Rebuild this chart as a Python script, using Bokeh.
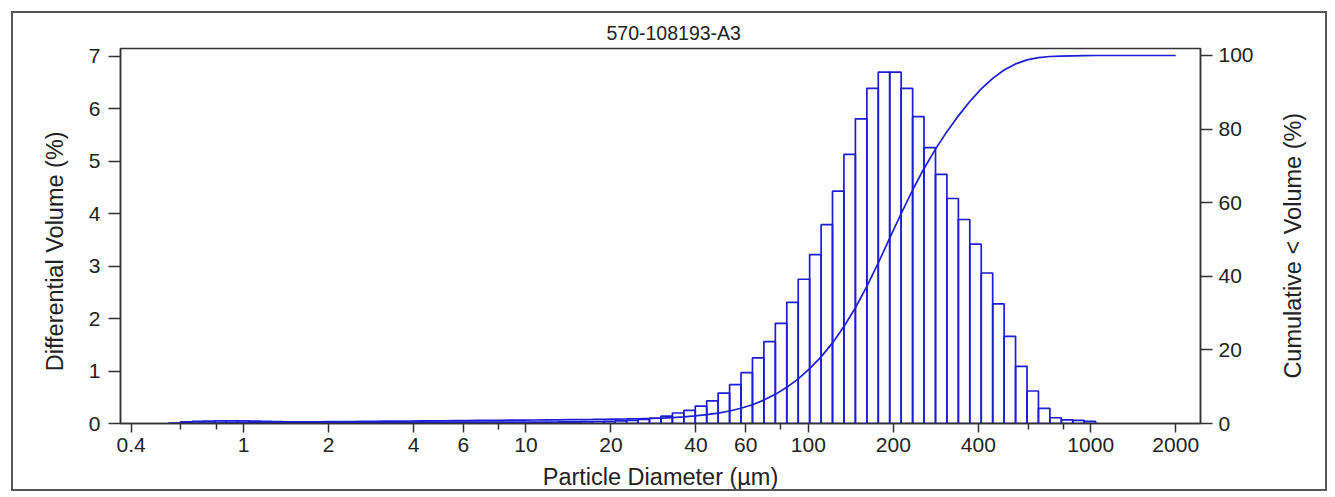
from math import pi
from bokeh.plotting import figure
from bokeh.models import Range1d, LinearAxis, FixedTicker
from bokeh.embed import file_html
from bokeh.resources import INLINE

title_text = "570-108193-A3"
x_label = "Particle Diameter (\u00b5m)"
y_label = "Differential Volume (%)"
y2_label = "Cumulative < Volume (%)"

# channel edges (um)
channel_edges = [0.375, 0.412, 0.452, 0.496, 0.545, 0.598, 0.657, 0.721, 0.791, 0.869,
                 0.953, 1.047, 1.149, 1.261, 1.385, 1.520, 1.668, 1.832, 2.010, 2.207,
                 2.423, 2.660, 2.920, 3.205, 3.519, 3.863, 4.240, 4.655, 5.110, 5.610,
                 6.158, 6.760, 7.421, 8.147, 8.943, 9.817, 10.78, 11.83, 12.99, 14.26,
                 15.65, 17.18, 18.86, 20.70, 22.73, 24.95, 27.39, 30.07, 33.01, 36.24,
                 39.78, 43.67, 47.94, 52.63, 57.77, 63.42, 69.62, 76.43, 83.90, 92.10,
                 101.1, 111.0, 121.8, 133.7, 146.8, 161.2, 176.9, 194.2, 213.2, 234.1,
                 256.9, 282.1, 309.6, 339.9, 373.1, 409.6, 449.7, 493.6, 541.9, 594.9,
                 653.0, 716.8, 786.9, 863.9, 948.3, 1041, 1143, 1255, 1377, 1512,
                 1660, 1822, 2000]
first_channel = 4

# differential volume (%) for channels 4..84
diff_volume = [0.01, 0.03, 0.04, 0.045, 0.05, 0.05, 0.05, 0.045, 0.04, 0.035, 0.03,
               0.025, 0.025, 0.025, 0.025, 0.025, 0.025, 0.025, 0.025, 0.025, 0.025,
               0.025, 0.025, 0.025, 0.025, 0.025, 0.025, 0.025, 0.025, 0.025, 0.025, 0.025,
               0.027, 0.028, 0.03, 0.032, 0.035, 0.038, 0.042,
               0.05, 0.06, 0.076, 0.10, 0.14, 0.20, 0.25, 0.33, 0.43,
               0.58, 0.74, 0.97, 1.25, 1.56,
               1.91, 2.31, 2.75, 3.22, 3.79,
               4.43, 5.13, 5.81, 6.39, 6.70,
               6.70, 6.39, 5.85, 5.26, 4.75,
               4.29, 3.89, 3.42, 2.87, 2.28,
               1.66, 1.09, 0.62, 0.29, 0.11, 0.07, 0.06, 0.04]

# cumulative < volume (%) at channel edges 4..92
cum_volume = [0, 0.01, 0.04, 0.08, 0.125, 0.175, 0.225, 0.275, 0.32, 0.36, 0.395,
              0.425, 0.45, 0.475, 0.50, 0.525, 0.55, 0.575, 0.60, 0.625, 0.65,
              0.675, 0.70, 0.725, 0.75, 0.775, 0.80, 0.825, 0.85, 0.875, 0.90,
              0.925, 0.95, 0.98, 1.01, 1.04, 1.07, 1.10, 1.14, 1.18, 1.23,
              1.29, 1.37, 1.47, 1.61, 1.81, 2.06, 2.39, 2.82, 3.40, 4.14,
              5.11, 6.36, 7.92, 9.83, 12.14, 14.89, 18.11, 21.90, 26.33, 31.46,
              37.27, 43.66, 50.36, 57.06, 63.45, 69.30, 74.56, 79.31, 83.60, 87.49,
              90.91, 93.78, 96.06, 97.72, 98.81, 99.43, 99.72, 99.83, 99.90, 99.96,
              100, 100, 100, 100, 100, 100, 100, 100]

x_major_ticks = [0.4, 1, 2, 4, 6, 10, 20, 40, 60, 100, 200, 400, 1000, 2000]
x_minor_ticks = [0.6, 0.8, 8, 80, 600, 800]
x_tick_labels = ["0.4", "1", "2", "4", "6", "10", "20", "40", "60", "100", "200", "400", "1000", "2000"]
y_ticks = [0, 1, 2, 3, 4, 5, 6, 7]
y2_ticks = [0, 20, 40, 60, 80, 100]

FONT = "Liberation Sans"
AX = "#333333"
TXT = "#222222"
BLUE = "#1c1cd9"

n = len(diff_volume)
lefts = channel_edges[first_channel:first_channel + n]
rights = channel_edges[first_channel + 1:first_channel + n + 1]
cum_x = channel_edges[first_channel:first_channel + len(cum_volume)]

p = figure(width=1316, height=480, x_axis_type="log",
           x_range=Range1d(0.3667, 2448), y_range=Range1d(0, 7.15),
           output_backend="svg", toolbar_location=None,
           min_border_left=107, min_border_right=129, min_border_top=35, min_border_bottom=70)
p.styles = {"border": "2px solid #555555", "margin-left": "11px", "margin-top": "11px"}
p.extra_y_ranges = {"cum": Range1d(0, 101.9)}
p.xgrid.visible = False
p.ygrid.visible = False
p.outline_line_color = AX
p.outline_line_width = 1.5

p.title.text = title_text
p.title.align = "left"
p.title.offset = 486
p.title.standoff = 8
p.title.vertical_align = "middle"
p.title.text_font = FONT
p.title.text_font_size = "19.5px"
p.title.text_font_style = "normal"
p.title.text_color = TXT

p.quad(left=lefts, right=rights, bottom=[0] * n, top=diff_volume,
       fill_alpha=0, line_color=BLUE, line_width=1.7)
p.line(cum_x, cum_volume, y_range_name="cum", line_color=BLUE, line_width=1.7)

xa = p.xaxis[0]
xa.ticker = FixedTicker(ticks=x_major_ticks, minor_ticks=x_minor_ticks)
xa.major_label_overrides = {t: s for t, s in zip(x_major_ticks, x_tick_labels)}
xa.axis_label = x_label

ya = p.yaxis[0]
ya.ticker = FixedTicker(ticks=y_ticks)

ra = LinearAxis(y_range_name="cum", ticker=FixedTicker(ticks=y2_ticks))
p.add_layout(ra, "right")

for ax in (xa, ya, ra):
    ax.axis_line_color = AX
    ax.axis_line_width = 1.5
    ax.major_tick_line_color = AX
    ax.major_tick_line_width = 1.5
    ax.minor_tick_line_color = AX
    ax.minor_tick_line_width = 1.5
    ax.major_tick_in = 0
    ax.minor_tick_in = 0
    ax.major_label_text_font = FONT
    ax.major_label_text_font_size = "21px"
    ax.major_label_text_color = TXT
    ax.axis_label_text_font = FONT
    ax.axis_label_text_font_size = "23.5px"
    ax.axis_label_text_font_style = "normal"
    ax.axis_label_text_color = TXT

xa.major_tick_out = 9
xa.minor_tick_out = 6
xa.major_label_standoff = 5
xa.axis_label_standoff = 9
ya.major_tick_out = 12
ya.minor_tick_out = 0
ya.major_label_standoff = 8
ra.major_tick_out = 12
ra.minor_tick_out = 0
ra.major_label_standoff = 6

# vertical axis titles (both read bottom-to-top), drawn as single rotated tick labels
y_label_pos = 5.57
y2_label_pos = 12.2
lab_l = LinearAxis(ticker=FixedTicker(ticks=[y_label_pos]),
                   major_label_overrides={y_label_pos: y_label})
lab_r = LinearAxis(y_range_name="cum", ticker=FixedTicker(ticks=[y2_label_pos]),
                   major_label_overrides={y2_label_pos: y2_label})
for ax, so in ((lab_l, 30), (lab_r, 37)):
    ax.axis_line_color = None
    ax.major_tick_line_color = None
    ax.minor_tick_line_color = None
    ax.major_tick_out = 0
    ax.major_tick_in = 0
    ax.minor_tick_out = 0
    ax.major_label_orientation = pi / 2
    ax.major_label_standoff = so
    ax.major_label_text_font = FONT
    ax.major_label_text_font_size = "23.5px"
    ax.major_label_text_color = TXT
p.add_layout(lab_l, "left")
p.add_layout(lab_r, "right")

open("out.html", "w").write(file_html(p, INLINE))
